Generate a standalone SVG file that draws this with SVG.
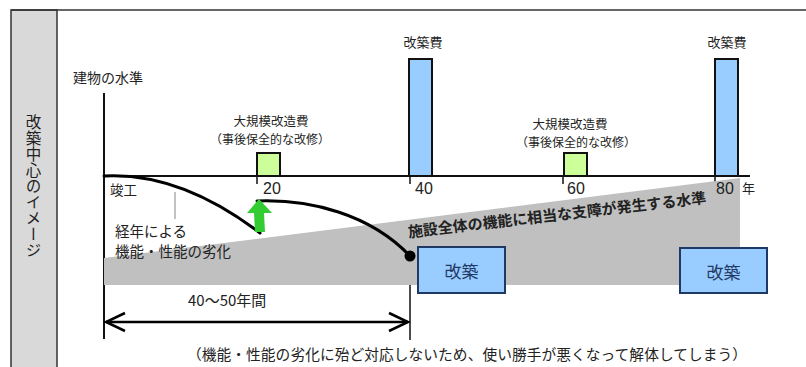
<svg xmlns="http://www.w3.org/2000/svg" width="806" height="367" viewBox="0 0 806 367">
<style>
text{font-family:"Noto Sans CJK JP","Liberation Sans",sans-serif;fill:#222}
.num{font-family:"Liberation Sans",Arial,sans-serif;font-size:16px}
.lbl{font-size:12.5px}
.sub{font-size:12px}
.bar{fill:#99ccff;stroke:#111;stroke-width:2}
.sq{fill:#ccff99;stroke:#111;stroke-width:2}
.box{fill:#99ccff;stroke:#1f3864;stroke-width:2}
.boxt{font-size:17px;fill:#1f3864;text-anchor:middle}
.ax{stroke:#111;stroke-width:2;fill:none}
.tick{stroke:#111;stroke-width:1.5}
.curve{stroke:#000;stroke-width:3;fill:none;stroke-linecap:round}
.mid{text-anchor:middle}
</style>
<defs>
<marker id="chev" markerWidth="24" markerHeight="22" refX="21" refY="11" orient="auto-start-reverse" markerUnits="userSpaceOnUse">
<polyline points="2,2 21,11 2,20" fill="none" stroke="#000" stroke-width="2.5"/>
</marker>
</defs>
<rect width="806" height="367" fill="#fff"/>
<g id="frame">
<rect x="11" y="10" width="46" height="360" fill="#d9d9d9" stroke="#333" stroke-width="1.5"/>
<line x1="11" y1="10" x2="806" y2="10" stroke="#333" stroke-width="1.5"/>
<text x="33.5" y="114" writing-mode="vertical-rl" letter-spacing="0.5" style="font-size:15.5px">改築中心のイメージ</text>
</g>
<g id="axes">
<line class="ax" x1="104" y1="93" x2="104" y2="339"/>
<line class="ax" x1="104" y1="176" x2="750" y2="176"/>
<line class="tick" x1="257" y1="176" x2="257" y2="184"/>
<line class="tick" x1="410" y1="176" x2="410" y2="184"/>
<line class="tick" x1="563" y1="176" x2="563" y2="184"/>
<line class="tick" x1="715" y1="176" x2="715" y2="184"/>
<line class="tick" x1="410" y1="285" x2="410" y2="340"/>
</g>
<g id="threshold">
<polygon points="104,258 740,178 740,285 104,285" fill="#c0c0c0"/>
<text transform="translate(408,232) rotate(-6.6)" x="0" y="5.5" style="font-size:15px;font-weight:bold" fill="#111">施設全体の機能に相当な支障が発生する水準</text>
</g>
<g id="axis-labels">
<text x="73" y="83" style="font-size:14px">建物の水準</text>
<text x="110" y="195" style="font-size:13.5px">竣工</text>
<text class="num" x="263" y="194">20</text>
<text class="num" x="415" y="194">40</text>
<text class="num" x="567" y="194">60</text>
<text class="num" x="716" y="194">80</text>
<text x="742" y="193" style="font-size:13px">年</text>
</g>
<g id="repair20">
<rect class="sq" x="257" y="153" width="23" height="23"/>
<text class="lbl mid" x="271" y="125.5">大規模改造費</text>
<text class="sub mid" x="270" y="143.5">（事後保全的な改修）</text>
</g>
<g id="rebuild40">
<rect class="bar" x="409" y="59" width="23" height="117"/>
<text class="mid" x="423" y="47" style="font-size:13px">改築費</text>
</g>
<g id="repair60">
<rect class="sq" x="564" y="153" width="23" height="23"/>
<text class="lbl mid" x="570" y="128.5">大規模改造費</text>
<text class="sub mid" x="576" y="146.5">（事後保全的な改修）</text>
</g>
<g id="rebuild80">
<rect class="bar" x="715" y="59" width="23" height="117"/>
<text class="mid" x="727" y="47" style="font-size:13px">改築費</text>
</g>
<g id="box1">
<rect class="box" x="418" y="247" width="87" height="46"/>
<text class="boxt" x="461.5" y="278">改築</text>
</g>
<g id="box2">
<rect class="box" x="680" y="248" width="87" height="45"/>
<text class="boxt" x="723.5" y="278.5">改築</text>
</g>
<g id="aging-label">
<line x1="175" y1="192" x2="175" y2="219" stroke="#999" stroke-width="1.2"/>
<text x="115" y="237" style="font-size:14.5px">経年による</text>
<text x="115" y="257" style="font-size:14.5px">機能・性能の劣化</text>
</g>
<g id="connectors">
<path class="curve" d="M104,176 Q180,172 260,233"/>
<path class="curve" d="M257,201 C310,199 370,214 410,256"/>
<circle cx="410" cy="256" r="5.5" fill="#000"/>
<polygon points="259,199 272,213 264,213 265,232 255,232 254,213 247,213" fill="#33cc33"/>
<line x1="106" y1="322" x2="408" y2="322" stroke="#000" stroke-width="2.5" marker-start="url(#chev)" marker-end="url(#chev)"/>
</g>
<g id="duration">
<text x="188" y="306" style="font-size:15px">40～50年間</text>
</g>
<g id="note">
<text x="187" y="360" style="font-size:14.7px" textLength="560" lengthAdjust="spacing">（機能・性能の劣化に殆ど対応しないため、使い勝手が悪くなって解体してしまう）</text>
</g>
</svg>
